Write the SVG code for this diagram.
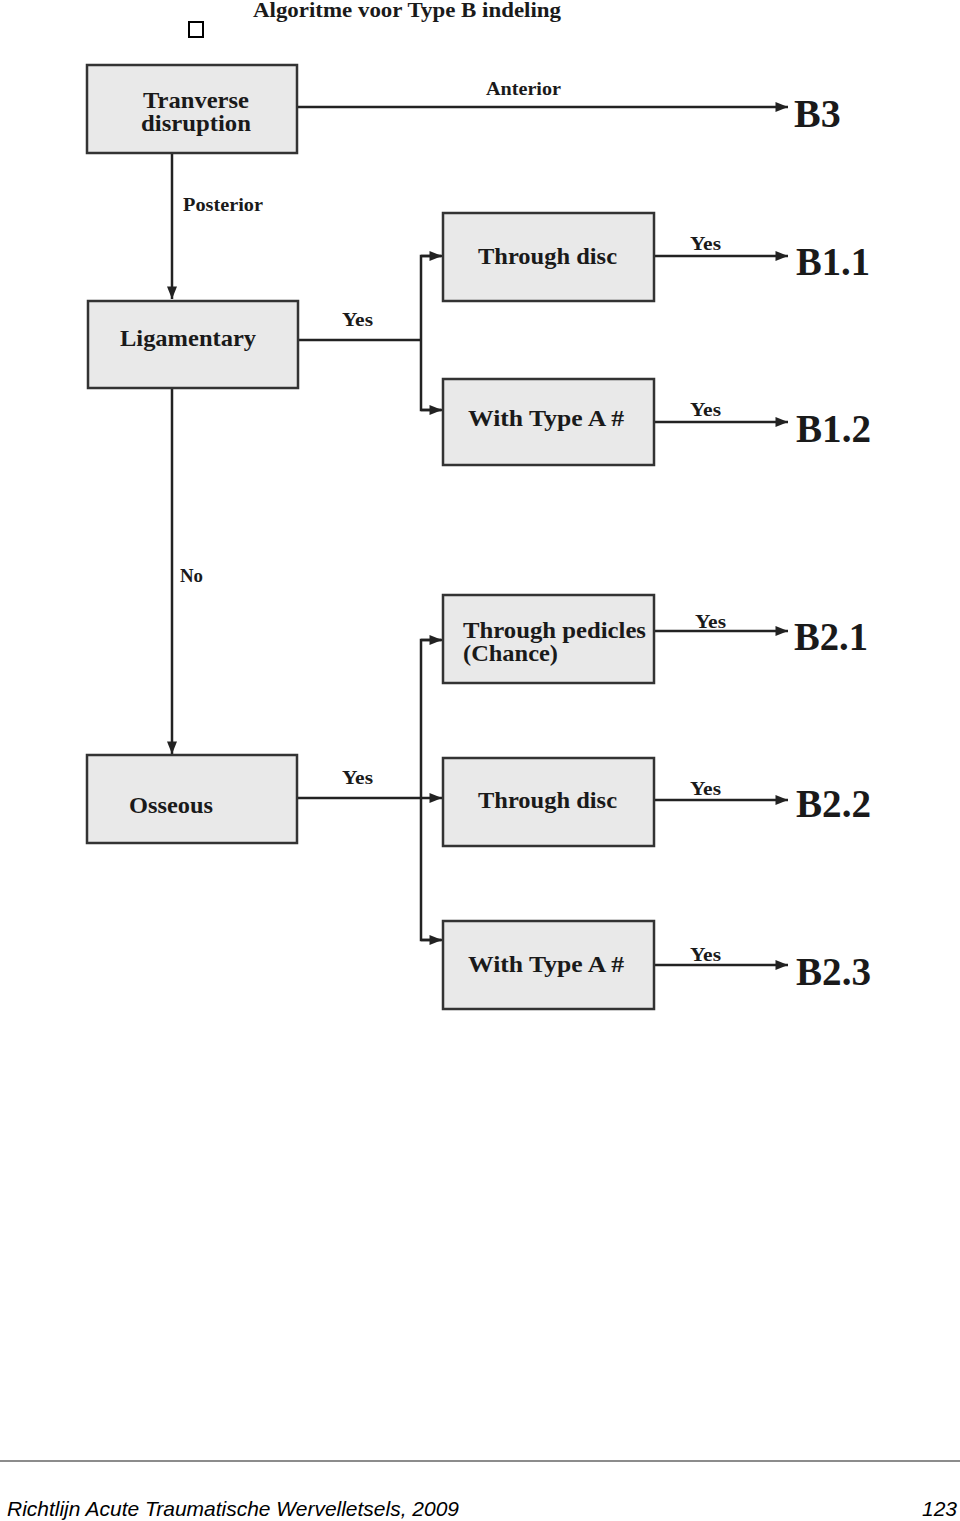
<svg xmlns="http://www.w3.org/2000/svg" width="960" height="1521" viewBox="0 0 960 1521">
<style>
.box{fill:#e9e9e9;stroke:#333;stroke-width:2.5}
.t{font-family:"Liberation Serif","Times New Roman",serif;font-weight:bold;fill:#1a1a1a}
.n{font-size:24px}
.lbl{font-size:18px}
.res{font-size:40px}
.ln{fill:none;stroke:#222;stroke-width:2.5}
.foot{font-family:"Liberation Sans",Arial,sans-serif;font-style:italic;font-size:21px;fill:#000}
</style>
<defs>
<marker id="ah" viewBox="0 0 10 10" refX="10" refY="5" markerWidth="5.5" markerHeight="5" orient="auto" markerUnits="strokeWidth">
<path d="M0,1 L10,5 L0,9 z" fill="#222"/>
</marker>
</defs>
<rect x="189" y="22" width="14" height="15" fill="#fff" stroke="#000" stroke-width="2"/>
<text class="t" x="253" y="17" font-size="21" textLength="308" lengthAdjust="spacingAndGlyphs">Algoritme voor Type B indeling</text>

<g id="connectors">
<line class="ln" x1="297" y1="107" x2="788" y2="107" marker-end="url(#ah)"/>
<line class="ln" x1="172" y1="153" x2="172" y2="299" marker-end="url(#ah)"/>
<polyline class="ln" points="298,340 421,340"/>
<polyline class="ln" points="441,256 421,256 421,410 441,410"/>
<line class="ln" x1="421" y1="256" x2="442" y2="256" marker-end="url(#ah)"/>
<line class="ln" x1="421" y1="410" x2="442" y2="410" marker-end="url(#ah)"/>
<line class="ln" x1="654" y1="256" x2="788" y2="256" marker-end="url(#ah)"/>
<line class="ln" x1="654" y1="422" x2="788" y2="422" marker-end="url(#ah)"/>
<line class="ln" x1="172" y1="388" x2="172" y2="754" marker-end="url(#ah)"/>
<polyline class="ln" points="297,798 421,798"/>
<polyline class="ln" points="441,640 421,640 421,940 441,940"/>
<line class="ln" x1="421" y1="640" x2="442" y2="640" marker-end="url(#ah)"/>
<line class="ln" x1="421" y1="798" x2="442" y2="798" marker-end="url(#ah)"/>
<line class="ln" x1="421" y1="940" x2="442" y2="940" marker-end="url(#ah)"/>
<line class="ln" x1="654" y1="631" x2="788" y2="631" marker-end="url(#ah)"/>
<line class="ln" x1="654" y1="800" x2="788" y2="800" marker-end="url(#ah)"/>
<line class="ln" x1="654" y1="965" x2="788" y2="965" marker-end="url(#ah)"/>
<text class="t lbl" x="486" y="95" textLength="75" lengthAdjust="spacingAndGlyphs">Anterior</text>
<text class="t lbl" x="183" y="211" textLength="80" lengthAdjust="spacingAndGlyphs">Posterior</text>
<text class="t lbl" x="342" y="326" textLength="31" lengthAdjust="spacingAndGlyphs">Yes</text>
<text class="t lbl" x="690" y="250" textLength="31" lengthAdjust="spacingAndGlyphs">Yes</text>
<text class="t lbl" x="690" y="416" textLength="31" lengthAdjust="spacingAndGlyphs">Yes</text>
<text class="t lbl" x="180" y="582" textLength="23" lengthAdjust="spacingAndGlyphs">No</text>
<text class="t lbl" x="342" y="784" textLength="31" lengthAdjust="spacingAndGlyphs">Yes</text>
<text class="t lbl" x="695" y="628" textLength="31" lengthAdjust="spacingAndGlyphs">Yes</text>
<text class="t lbl" x="690" y="795" textLength="31" lengthAdjust="spacingAndGlyphs">Yes</text>
<text class="t lbl" x="690" y="961" textLength="31" lengthAdjust="spacingAndGlyphs">Yes</text>
</g>

<g id="tranverse">
<rect class="box" x="87" y="65" width="210" height="88"/>
<text class="t n" x="143" y="108" textLength="106" lengthAdjust="spacingAndGlyphs">Tranverse</text>
<text class="t n" x="141" y="131" textLength="110" lengthAdjust="spacingAndGlyphs">disruption</text>
</g>
<g id="b3"><text class="t res" x="794" y="127">B3</text></g>

<g id="ligamentary">
<rect class="box" x="88" y="301" width="210" height="87"/>
<text class="t n" x="120" y="346" textLength="136" lengthAdjust="spacingAndGlyphs">Ligamentary</text>
</g>
<g id="through-disc-1">
<rect class="box" x="443" y="213" width="211" height="88"/>
<text class="t n" x="478" y="264" textLength="139" lengthAdjust="spacingAndGlyphs">Through disc</text>
</g>
<g id="with-type-a-1">
<rect class="box" x="443" y="379" width="211" height="86"/>
<text class="t n" x="468" y="426" textLength="156" lengthAdjust="spacingAndGlyphs">With Type A #</text>
</g>
<g id="b11"><text class="t res" x="796" y="275" textLength="74" lengthAdjust="spacingAndGlyphs">B1.1</text></g>
<g id="b12"><text class="t res" x="796" y="442" textLength="75" lengthAdjust="spacingAndGlyphs">B1.2</text></g>

<g id="osseous">
<rect class="box" x="87" y="755" width="210" height="88"/>
<text class="t n" x="129" y="813" textLength="84" lengthAdjust="spacingAndGlyphs">Osseous</text>
</g>
<g id="through-pedicles">
<rect class="box" x="443" y="595" width="211" height="88"/>
<text class="t n" x="463" y="638" textLength="183" lengthAdjust="spacingAndGlyphs">Through pedicles</text>
<text class="t n" x="463" y="661" textLength="95" lengthAdjust="spacingAndGlyphs">(Chance)</text>
</g>
<g id="through-disc-2">
<rect class="box" x="443" y="758" width="211" height="88"/>
<text class="t n" x="478" y="808" textLength="139" lengthAdjust="spacingAndGlyphs">Through disc</text>
</g>
<g id="with-type-a-2">
<rect class="box" x="443" y="921" width="211" height="88"/>
<text class="t n" x="468" y="972" textLength="156" lengthAdjust="spacingAndGlyphs">With Type A #</text>
</g>
<g id="b21"><text class="t res" x="794" y="650" textLength="74" lengthAdjust="spacingAndGlyphs">B2.1</text></g>
<g id="b22"><text class="t res" x="796" y="817" textLength="75" lengthAdjust="spacingAndGlyphs">B2.2</text></g>
<g id="b23"><text class="t res" x="796" y="985" textLength="75" lengthAdjust="spacingAndGlyphs">B2.3</text></g>

<line x1="0" y1="1461" x2="960" y2="1461" stroke="#666" stroke-width="1.5"/>
<text class="foot" x="7" y="1516" textLength="452" lengthAdjust="spacingAndGlyphs">Richtlijn Acute Traumatische Wervelletsels, 2009</text>
<text class="foot" x="957" y="1516" text-anchor="end">123</text>
</svg>
